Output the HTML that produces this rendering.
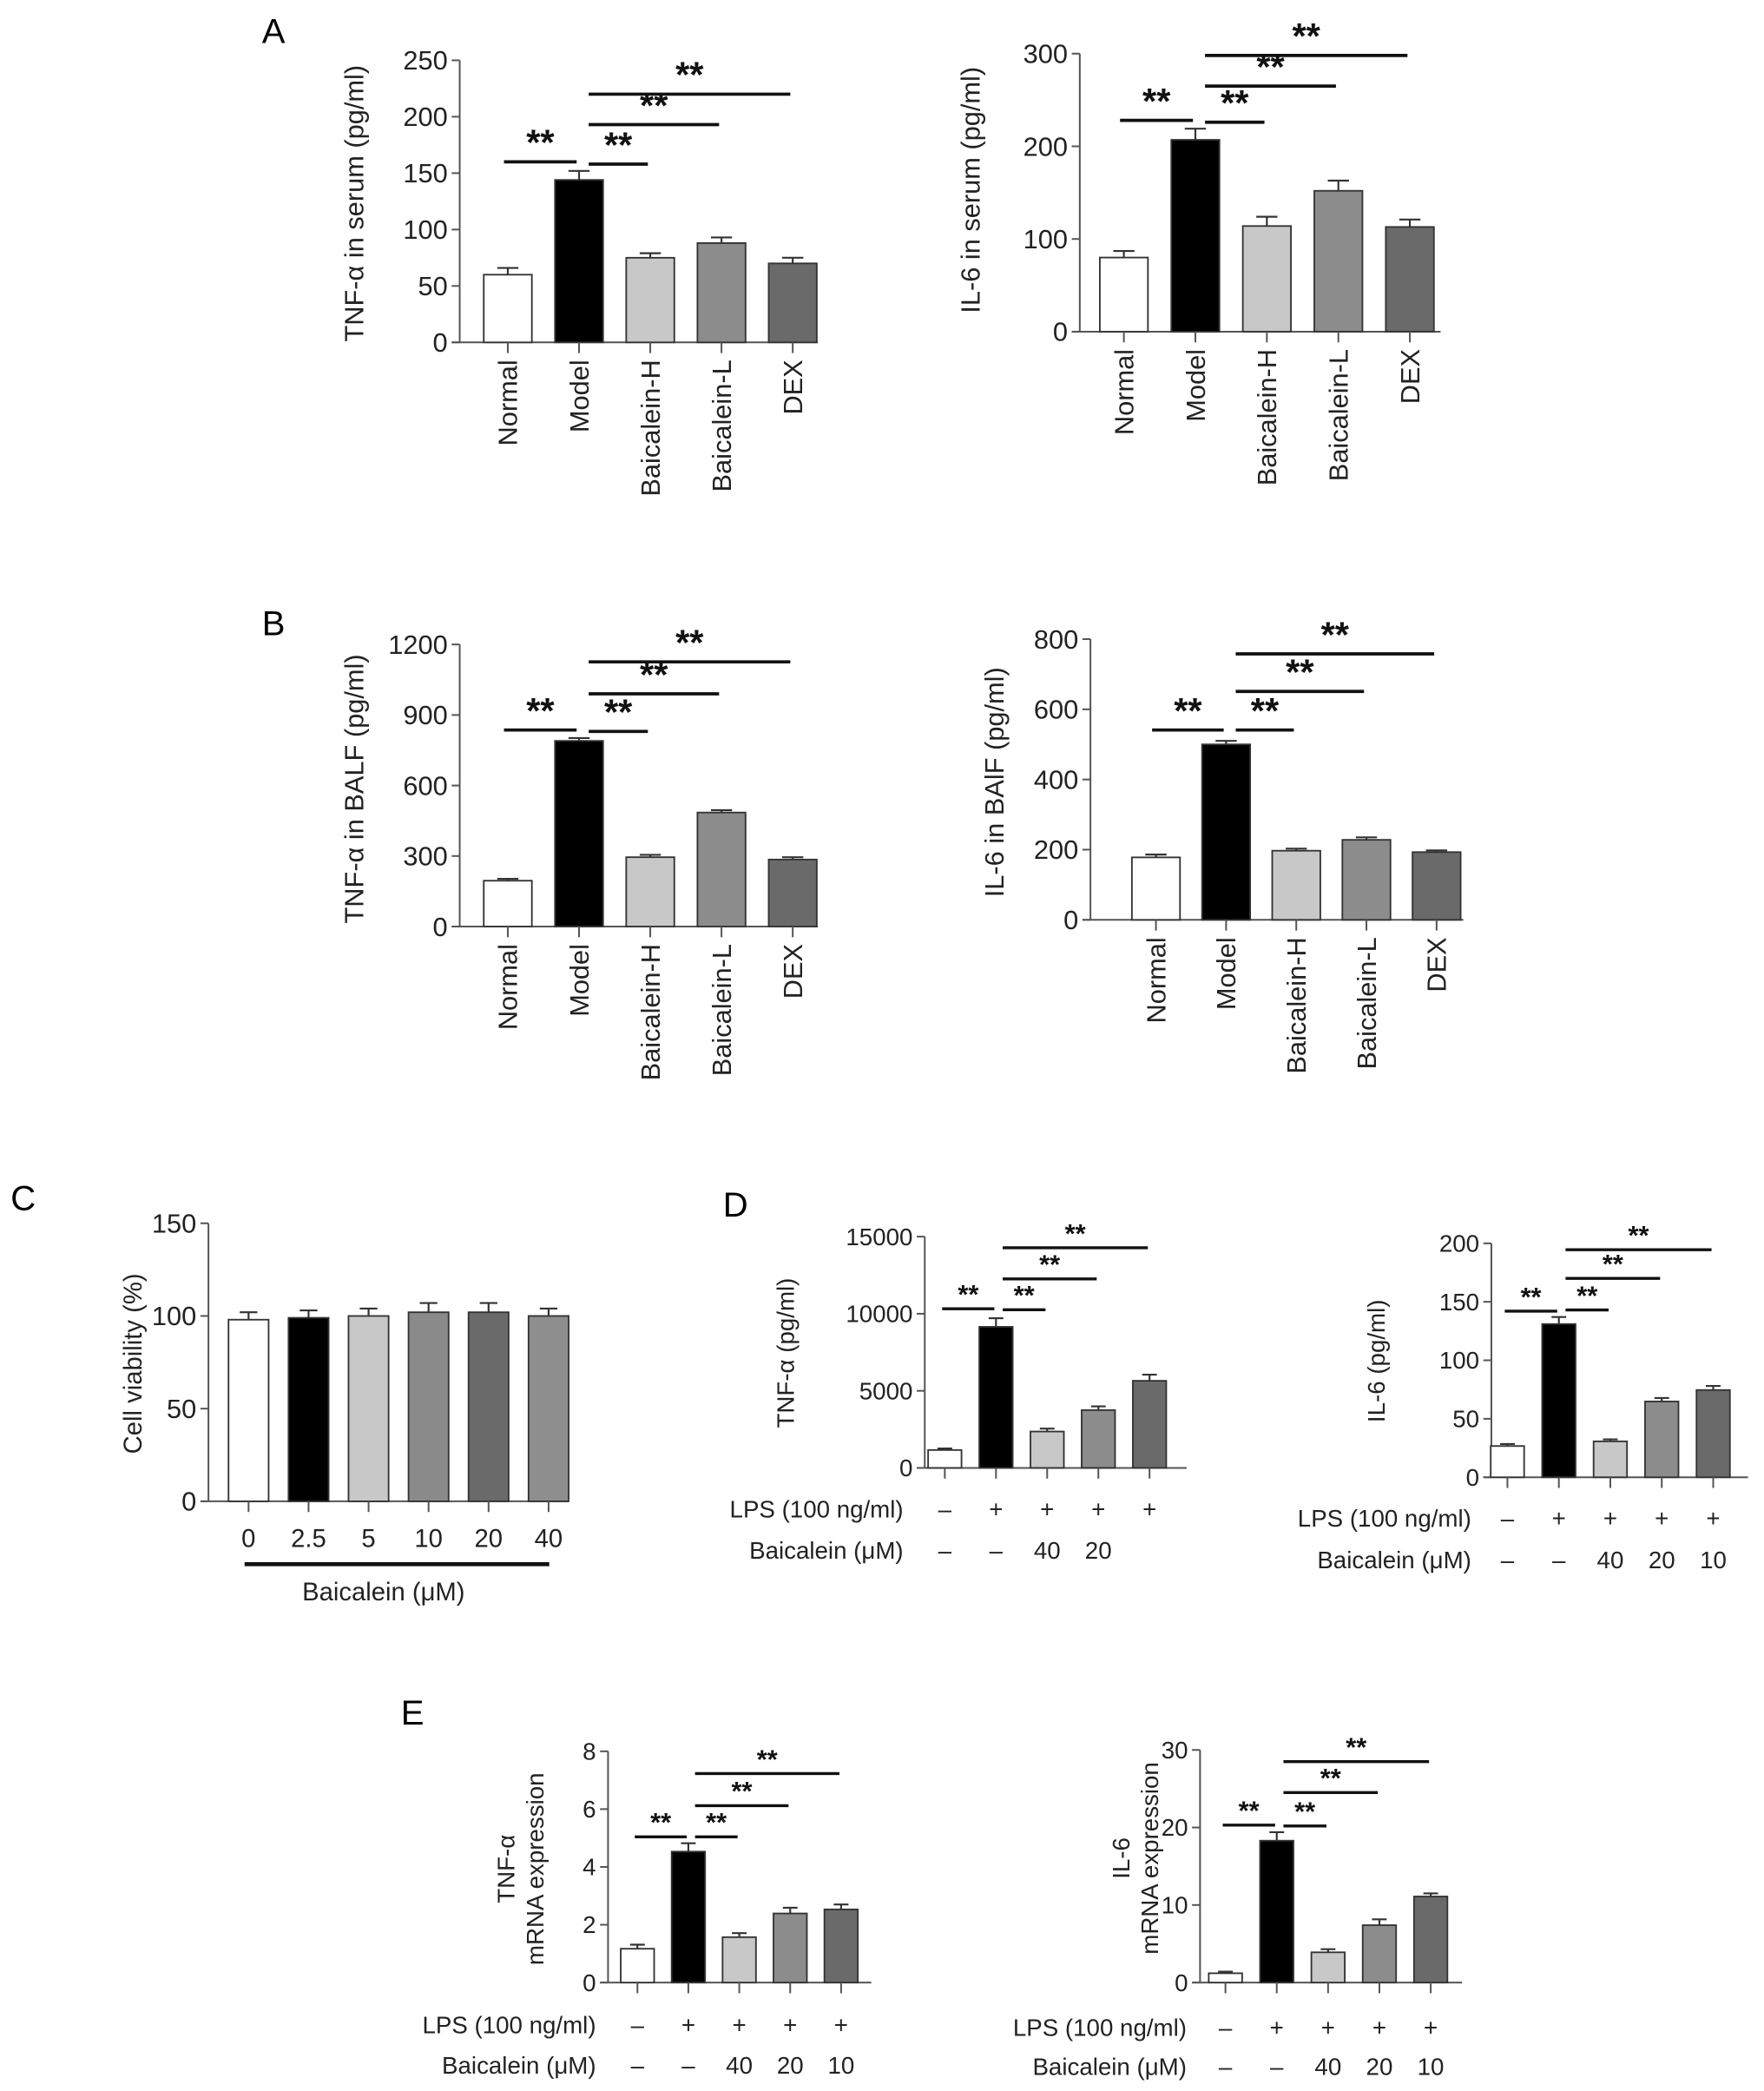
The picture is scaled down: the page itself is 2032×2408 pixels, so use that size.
<!DOCTYPE html>
<html><head><meta charset="utf-8"><style>
html,body{margin:0;padding:0;background:#fff;}
svg{display:block;font-family:"Liberation Sans",Arial,sans-serif;}
.n{font-family:"Liberation Sans Narrow","Liberation Sans",sans-serif;}
</style></head><body>
<svg id="fig" width="2032" height="2408" viewBox="0 0 1320 1564" xmlns="http://www.w3.org/2000/svg">
<text x="196" y="32" font-size="26">A</text>
<text x="196" y="475" font-size="26">B</text>
<text x="8" y="905" font-size="26">C</text>
<text x="541" y="910" font-size="26">D</text>
<text x="300" y="1290" font-size="26">E</text>
</svg>
<script>
// ---- data ----
const groupCats = ["Normal","Model","Baicalein-H","Baicalein-L","DEX"];
const aTnfVals = [60,144,75,88,70];
const aTnfErr = [6,8,4,5,5];
const aTnfTicks = [0,50,100,150,200,250];
const aIl6Vals = [80,207,114,152,113];
const aIl6Err = [7,12,10,11,8];
const aIl6Ticks = [0,100,200,300];
const bTnfVals = [195,790,295,485,285];
const bTnfErr = [8,12,10,10,10];
const bTnfTicks = [0,300,600,900,1200];
const bIl6Vals = [178,500,197,228,193];
const bIl6Err = [8,10,6,7,5];
const bIl6Ticks = [0,200,400,600,800];
const cCats = ["0","2.5","5","10","20","40"];
const cVals = [98,99,100,102,102,100];
const cErr = [4,4,4,5,5,4];
const cTicks = [0,50,100,150];
const dTnfVals = [1160,9150,2360,3750,5650];
const dTnfErr = [100,560,190,240,400];
const dTnfTicks = [0,5000,10000,15000];
const dIl6Vals = [26.7,131,30.7,64.8,74.6];
const dIl6Err = [1.7,6,1.7,3,3.5];
const dIl6Ticks = [0,50,100,150,200];
const eTnfVals = [1.17,4.53,1.57,2.39,2.53];
const eTnfErr = [0.14,0.29,0.14,0.2,0.17];
const eTnfTicks = [0,2,4,6,8];
const eIl6Vals = [1.2,18.3,3.9,7.4,11.1];
const eIl6Err = [0.2,1.1,0.4,0.75,0.4];
const eIl6Ticks = [0,10,20,30];
// significance bar heights (data units): [N-M, M-H, M-L, M-DEX]
const aTnfSig = [160,158,193,220];
const aIl6Sig = [228,226,265,298];
const bTnfSig = [836,830,990,1126];
const bIl6Sig = [541,541,651,758];
const dTnfSig = [10320,10260,12260,14280];
const dIl6Sig = [142,143,170,194.5];
const eTnfSig = [5.04,5.04,6.12,7.23];
const eIl6Sig = [20.3,20.2,24.5,28.5];
const lpsRow = ["–","+","+","+","+"];
const baiRowD = ["–","–","40","20",""];
const baiRow = ["–","–","40","20","10"];
const fills5 = ["#ffffff","#000000","#c8c8c8","#8c8c8c","#6a6a6a"];
const fills6 = ["#ffffff","#000000","#c8c8c8","#8a8a8a","#6a6a6a","#8e8e8e"];

const svg = document.getElementById('fig');
const NS = "http://www.w3.org/2000/svg";
function mk(tag, attrs, parent){
  const e = document.createElementNS(NS, tag);
  for (const k in attrs) e.setAttribute(k, attrs[k]);
  (parent||svg).appendChild(e);
  return e;
}

function panel(p){
  const g = mk('g', {});
  
  
  const ymax = p.ticks[p.ticks.length-1];
  const y = v => p.y0 - (v/ymax)*(p.y0 - p.yTop);
  const x = i => p.c0 + i*p.step;
  const ax = mk('line', {x1:p.ax, x2:p.ax, y1:p.yTop, y2:p.y0, stroke:'#555', 'stroke-width':1.3}, g);
  
  
  const bx = mk('line', {x1:p.ax-6, x2:p.axEnd, y1:p.y0, y2:p.y0, stroke:'#555', 'stroke-width':1.3}, g);
  
  
  p.ticks.forEach(t=>{
    mk('line', {x1:p.ax-6, x2:p.ax, y1:y(t), y2:y(t), stroke:'#555','stroke-width':1.3}, g);
    const tl = mk('text', {x:p.ax-9, y:y(t)+p.tfs*0.35, 'font-size':p.tfs, 'text-anchor':'end', fill:'#222', class:p.narrow?'n':''}, g);
    tl.textContent = t;
    
    
  });
  p.ylabel.forEach((ln, k)=>{
    const yl = mk('text', {x:0, y:0, 'font-size':p.lfs, 'text-anchor':'middle', fill:'#222',
      transform:`translate(${p.ylx + k*p.lfs*1.2},${p.yly}) rotate(-90)`}, g);
    yl.textContent = ln;
    
    
  });
  p.vals.forEach((v,i)=>{
    const cx = x(i);
    const r = mk('rect', {x:cx-p.bw/2, y:y(v), width:p.bw, height:p.y0-y(v), fill:p.fills[i], stroke:'#333','stroke-width':1.2}, g);
    
    
    const et = y(v + p.err[i]);
    const eb = mk('path', {d:`M${cx},${y(v)} V${et} M${cx-p.bw*0.22},${et} H${cx+p.bw*0.22}`, stroke:'#333','stroke-width':1.4, fill:'none'}, g);
    
    
    mk('line', {x1:cx, x2:cx, y1:p.y0, y2:p.y0+8, stroke:'#555','stroke-width':1.3}, g);
    if (p.cats){
      const cl = mk('text', {x:0,y:0,'font-size':p.cfs,'text-anchor':'end',fill:'#222',
        transform:`translate(${cx+7},${p.y0+13}) rotate(-90)`}, g);
      cl.textContent = p.cats[i];
      
      
    }
  });
  if (p.sig){
    const pairs = [[0,1],[1,2],[1,3],[1,4]];
    pairs.forEach((pr,k)=>{
      const x1 = pr[0]===0 ? x(0)-p.bw*0.08 : x(1)+p.bw*0.2;
      const x2 = pr[0]===0 ? x(1)-p.bw*0.05 : x(pr[1])-p.bw*0.05;
      const ly = y(p.sig[k]);
      const sl = mk('line', {x1:x1, x2:x2, y1:ly, y2:ly, stroke:'#111','stroke-width':p.sw}, g);
      
      
      const st = mk('text', {x:(x1+x2)/2, y:ly-p.sgap, 'font-size':p.sfs, 'font-weight':'bold', 'text-anchor':'middle', fill:'#111'}, g);
      st.textContent = '**';
      
      
    });
  }
  if (p.rows){
    p.rows.forEach((row, r)=>{
      const ry = p.rowY[r];
      const lb = mk('text', {x:p.rowLabelX, y:ry, 'font-size':18, 'text-anchor':'end', fill:'#222'}, g);
      lb.textContent = r===0 ? 'LPS (100 ng/ml)' : 'Baicalein (μM)';
      
      
      row.forEach((s,i)=>{
        const t = mk('text', {x:x(i), y:ry, 'font-size':18, 'text-anchor':'middle', fill:'#222'}, g);
        t.textContent = s;
        
        
      });
    });
  }
  return {g, x};
}

const base = {tfs:20, lfs:20, cfs:20, sfs:27, sw:2.4, sgap:5};
panel(Object.assign({}, base, {name:'panel-a-tnf-serum', ax:344, axEnd:612, y0:256, yTop:45, c0:380, step:53.3, bw:36,
  ticks:aTnfTicks, vals:aTnfVals, err:aTnfErr, fills:fills5, cats:groupCats, sig:aTnfSig,
  ylabel:['TNF-α in serum (pg/ml)'], ylx:272, yly:152}));
panel(Object.assign({}, base, {name:'panel-a-il6-serum', ax:808, axEnd:1078, y0:248, yTop:40, c0:841, step:53.5, bw:36,
  ticks:aIl6Ticks, vals:aIl6Vals, err:aIl6Err, fills:fills5, cats:groupCats, sig:aIl6Sig,
  ylabel:['IL-6 in serum (pg/ml)'], ylx:733, yly:142}));
panel(Object.assign({}, base, {name:'panel-b-tnf-balf', ax:344, axEnd:612, y0:693, yTop:482, c0:380, step:53.3, bw:36,
  ticks:bTnfTicks, vals:bTnfVals, err:bTnfErr, fills:fills5, cats:groupCats, sig:bTnfSig,
  ylabel:['TNF-α in BALF (pg/ml)'], ylx:272, yly:590}));
panel(Object.assign({}, base, {name:'panel-b-il6-balf', ax:816, axEnd:1095, y0:688, yTop:478, c0:865, step:52.5, bw:36,
  ticks:bIl6Ticks, vals:bIl6Vals, err:bIl6Err, fills:fills5, cats:groupCats, sig:bIl6Sig,
  ylabel:['IL-6 in BAlF (pg/ml)'], ylx:751, yly:585}));
const pc = panel(Object.assign({}, base, {name:'panel-c-viability', ax:156, axEnd:425, y0:1123, yTop:915, c0:186, step:44.9, bw:30,
  ticks:cTicks, vals:cVals, err:cErr, fills:fills6, narrow:true, tfs:20, lfs:19,
  ylabel:['Cell viability (%)'], ylx:106, yly:1020}));
cCats.forEach((c,i)=>{
  const t = mk('text', {x:pc.x(i), y:1157, 'font-size':19, 'text-anchor':'middle', fill:'#222'});
  t.textContent = c;
  
  
});
const cl = mk('line', {x1:183, x2:411, y1:1170, y2:1170, stroke:'#111', 'stroke-width':3});


const ct = mk('text', {x:287, y:1197, 'font-size':19, 'text-anchor':'middle', fill:'#222'});
ct.textContent = 'Baicalein (μM)';



const small = Object.assign({}, base, {tfs:18, lfs:18, sfs:20, sw:2.2, sgap:4, narrow:true});
panel(Object.assign({}, small, {name:'panel-d-tnf', ax:692, axEnd:888, y0:1098, yTop:925, c0:707, step:38.3, bw:25,
  ticks:dTnfTicks, vals:dTnfVals, err:dTnfErr, fills:fills5, sig:dTnfSig,
  ylabel:['TNF-α (pg/ml)'], ylx:594, yly:1012, rows:[lpsRow, baiRowD], rowY:[1135,1166], rowLabelX:676}));
panel(Object.assign({}, small, {name:'panel-d-il6', ax:1116, axEnd:1308, y0:1105, yTop:930, c0:1128, step:38.5, bw:25,
  ticks:dIl6Ticks, vals:dIl6Vals, err:dIl6Err, fills:fills5, sig:dIl6Sig,
  ylabel:['IL-6 (pg/ml)'], ylx:1036, yly:1018, rows:[lpsRow, baiRow], rowY:[1142,1173], rowLabelX:1101}));
panel(Object.assign({}, small, {name:'panel-e-tnf-mrna', ax:455, axEnd:652, y0:1483, yTop:1310, c0:477, step:38.1, bw:25,
  ticks:eTnfTicks, vals:eTnfVals, err:eTnfErr, fills:fills5, sig:eTnfSig,
  ylabel:['TNF-α','mRNA expression'], ylx:385, yly:1398, rows:[lpsRow, baiRow], rowY:[1521,1551], rowLabelX:446}));
panel(Object.assign({}, small, {name:'panel-e-il6-mrna', ax:898, axEnd:1094, y0:1483, yTop:1309, c0:917, step:38.4, bw:25,
  ticks:eIl6Ticks, vals:eIl6Vals, err:eIl6Err, fills:fills5, sig:eIl6Sig,
  ylabel:['IL-6','mRNA expression'], ylx:845, yly:1390, rows:[lpsRow, baiRow], rowY:[1523,1552], rowLabelX:888}));
</script>
</body></html>
